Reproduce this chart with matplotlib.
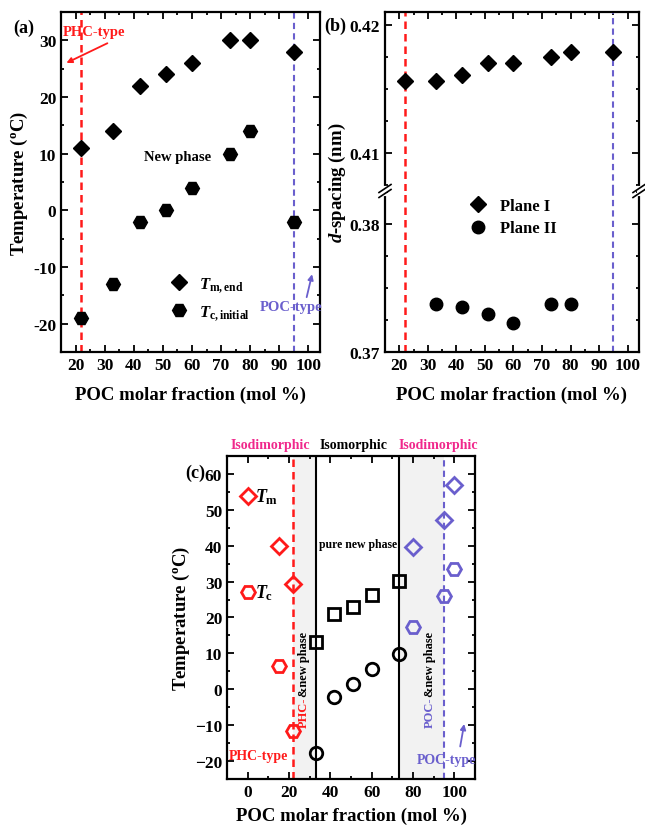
import numpy as np
import matplotlib
matplotlib.use('Agg')
import matplotlib.pyplot as plt
from matplotlib.ticker import MultipleLocator
from matplotlib.lines import Line2D

# Datos panel (a)
x_a = [22, 33, 42, 51, 60, 73, 80, 95]
tm_end = [11, 14, 22, 24, 26, 30, 30, 28]
tc_ini = [-19, -13, -2, 0, 4, 10, 14, -2]

# Datos panel (b)
x_b1 = [22, 33, 42, 51, 60, 73, 80, 95]
plane1 = [0.4156, 0.4156, 0.4161, 0.4170, 0.4170, 0.4175, 0.4179, 0.4179]
x_b2 = [33, 42, 51, 60, 73, 80]
plane2 = [0.37375, 0.3735, 0.3730, 0.3723, 0.37375, 0.37375]

# Datos panel (c)
x_phc = [0, 15, 22]
tm_phc = [53.8, 40, 29.4]
tc_phc = [27, 6.6, -11.5]
x_new = [33, 42, 51, 60, 73]
tm_new = [13.3, 21.1, 23.0, 26.3, 30.2]
tc_new = [-17.8, -2.2, 1.5, 5.7, 9.7]
x_poc = [80, 95, 100]
tm_poc = [39.6, 47.3, 56.8]
tc_poc = [17.4, 26, 33.5]

ticks_a = [-20, -10, 0, 10, 20, 30]
ticks_x = [20, 30, 40, 50, 60, 70, 80, 90, 100]

RED = '#ff1a1a'
BLUE = '#6a5fcd'
PINK = '#f0288c'
W, H = 645, 828

plt.rcParams['font.family'] = 'Liberation Serif'
plt.rcParams['font.weight'] = 'bold'
plt.rcParams['axes.labelweight'] = 'bold'
plt.rcParams['mathtext.fontset'] = 'custom'
plt.rcParams['mathtext.rm'] = 'Liberation Serif:bold'
plt.rcParams['mathtext.it'] = 'Liberation Serif:italic:bold'
plt.rcParams['mathtext.bf'] = 'Liberation Serif:bold'

fig = plt.figure(figsize=(W / 100, H / 100), dpi=100)


def caja(x0, y0, x1, y1):
    # pixeles (arriba-izquierda) -> fraccion de figura
    return [x0 / W, 1 - y1 / H, (x1 - x0) / W, (y1 - y0) / H]


def estilo(ax):
    ax.tick_params(which='both', direction='in', top=True, right=True, width=1.3, labelsize=12.5)
    ax.tick_params(which='major', length=5)
    ax.tick_params(which='minor', length=2.5)
    for s in ax.spines.values():
        s.set_linewidth(1.6)


# ---------------- Panel (a)
ax = fig.add_axes(caja(61, 13, 320, 353))
ax.axvline(22, color=RED, ls='--', lw=1.8, dashes=(3, 2))
ax.axvline(95, color=BLUE, ls='--', lw=1.5, dashes=(3, 2))
ax.plot(x_a, tm_end, 'D', color='k', ms=8, label=r'$T_{\rm m,end}$')
ax.plot(x_a, tc_ini, 'H', color='k', ms=10, label=r'$T_{\rm c,initial}$')
ax.set_xlim(15, 104)
ax.set_ylim(-25, 35)
ax.set_xticks(ticks_x)
ax.set_yticks(ticks_a)
ax.set_yticklabels([str(t) for t in ticks_a])
ax.xaxis.set_minor_locator(MultipleLocator(5))
ax.yaxis.set_minor_locator(MultipleLocator(5))
estilo(ax)
ax.set_xlabel('POC molar fraction (mol %)', fontsize=13.5, labelpad=9)
ax.set_ylabel('Temperature ($^{\\rm o}$C)', fontsize=13.5, labelpad=2)
ax.legend(frameon=False, loc='center left', bbox_to_anchor=(0.39, 0.157), fontsize=12,
          handlelength=1, handletextpad=0.7, labelspacing=0.5, borderpad=0)
ax.text(54.9, 9.5, 'New phase', fontsize=10.5, ha='center', va='center')
ax.text(26.2, 31.6, 'PHC-type', color=RED, fontsize=10.5, ha='center', va='center')
ax.annotate('', xy=(16.0, 25.8), xytext=(31.8, 29.7),
            arrowprops=dict(arrowstyle='-|>', color=RED, lw=1.3, mutation_scale=8))
ax.text(94, -16.9, 'POC-type', color=BLUE, fontsize=10.5, ha='center', va='center')
ax.annotate('', xy=(101.5, -10.8), xytext=(99.2, -15.8),
            arrowprops=dict(arrowstyle='-|>', color=BLUE, lw=1.3, mutation_scale=8))
fig.text(24 / W, 1 - 28 / H, '(a)', fontsize=13, ha='center', va='center')

# ---------------- Panel (b), eje cortado
ax_t = fig.add_axes(caja(385, 13, 639, 192))
ax_b = fig.add_axes(caja(385, 192, 639, 353))
for a in (ax_t, ax_b):
    a.axvline(22, color=RED, ls='--', lw=1.8, dashes=(3, 2))
    a.axvline(95, color=BLUE, ls='--', lw=1.5, dashes=(3, 2))
    a.set_xlim(15, 104)
    a.set_xticks(ticks_x)
    a.xaxis.set_minor_locator(MultipleLocator(5))
    a.yaxis.set_minor_locator(MultipleLocator(0.0025))
    estilo(a)
ax_t.plot(x_b1, plane1, 'D', color='k', ms=8)
ax_b.plot(x_b2, plane2, 'o', color='k', ms=9)
ax_t.set_ylim(0.407, 0.421)
ax_b.set_ylim(0.37, 0.38258)
ax_t.set_yticks([0.41, 0.42])
ax_t.set_yticklabels(['0.41', '0.42'])
ax_b.set_yticks([0.37, 0.38])
ax_b.set_yticklabels(['0.37', '0.38'])
ax_t.spines['bottom'].set_visible(False)
ax_b.spines['top'].set_visible(False)
ax_t.tick_params(which='both', bottom=False, labelbottom=False)
ax_b.tick_params(which='both', top=False)
ax_b.set_xlabel('POC molar fraction (mol %)', fontsize=13.5, labelpad=9)
fig.text(337 / W, 1 - 183 / H, '$d$-spacing (nm)', fontsize=13.5, rotation=90,
         ha='center', va='center')
# marcas del corte
for xb in (385, 639):
    fig.add_artist(Line2D([xb / W, xb / W], [1 - 189 / H, 1 - 195 / H],
                          color='white', lw=3, transform=fig.transFigure))
    for dy in (-2.5, 2.5):
        fig.add_artist(Line2D([(xb - 6) / W, (xb + 6) / W],
                              [1 - (192 + dy + 4) / H, 1 - (192 + dy - 4) / H],
                              color='k', lw=1.2, transform=fig.transFigure))
hb = [Line2D([], [], ls='', marker='D', color='k', ms=8),
      Line2D([], [], ls='', marker='o', color='k', ms=9)]
ax_b.legend(hb, ['Plane I', 'Plane II'], frameon=False, loc='upper left',
            bbox_to_anchor=(0.3, 1.01), fontsize=12, handlelength=1,
            handletextpad=0.8, labelspacing=0.4, borderpad=0)
fig.text(335 / W, 1 - 26 / H, '(b)', fontsize=13, ha='center', va='center')

# ---------------- Panel (c)
ax = fig.add_axes(caja(227, 457, 475, 780))
ax.axvspan(22, 33, color='#f2f2f2', lw=0)
ax.axvspan(73, 95, color='#f2f2f2', lw=0)
ax.axvline(22, color=RED, ls='--', lw=1.8, dashes=(3, 2))
ax.axvline(95, color=BLUE, ls='--', lw=1.5, dashes=(3, 2))
ax.axvline(33, color='k', lw=1.5)
ax.axvline(73, color='k', lw=1.5)
mk = dict(ls='', mfc='none', mew=2)
ax.plot(x_phc, tm_phc, marker='D', mec=RED, ms=8.5, **mk)
ax.plot(x_phc, tc_phc, marker='H', mec=RED, ms=10, **mk)
ax.plot(x_new, tm_new, marker='s', mec='k', ms=8, **mk)
ax.plot(x_new, tc_new, marker='o', mec='k', ms=9, **mk)
ax.plot(x_poc, tm_poc, marker='D', mec=BLUE, ms=8.5, **mk)
ax.plot(x_poc, tc_poc, marker='H', mec=BLUE, ms=10, **mk)
ax.set_xlim(-10, 110)
ax.set_ylim(-25, 65)
ax.set_xticks([0, 20, 40, 60, 80, 100])
ax.set_yticks([-20, -10, 0, 10, 20, 30, 40, 50, 60])
ax.xaxis.set_minor_locator(MultipleLocator(10))
ax.yaxis.set_minor_locator(MultipleLocator(5))
estilo(ax)
ax.set_xlabel('POC molar fraction (mol %)', fontsize=13.5, labelpad=5)
ax.set_ylabel('Temperature ($^{\\rm o}$C)', fontsize=13.5, labelpad=2)
ax.text(3.5, 53.8, r'$T_{\rm m}$', fontsize=13, va='center')
ax.text(3.5, 27, r'$T_{\rm c}$', fontsize=13, va='center')
ax.text(53.5, 40.4, 'pure new phase', fontsize=8.5, ha='center', va='center')
ax.text(5.2, -18.4, 'PHC-type', color=RED, fontsize=10, ha='center', va='center')
ax.text(96, -19.5, 'POC-type', color=BLUE, fontsize=10, ha='center', va='center')
ax.annotate('', xy=(105, -8.9), xytext=(102.6, -16.7),
            arrowprops=dict(arrowstyle='-|>', color=BLUE, lw=1.3, mutation_scale=8))
ax.text(10.9, 1.036, 'Isodimorphic', color=PINK, fontsize=10, ha='center', va='center',
        transform=ax.get_xaxis_transform())
ax.text(51, 1.036, 'Isomorphic', color='k', fontsize=10, ha='center', va='center',
        transform=ax.get_xaxis_transform())
ax.text(92, 1.036, 'Isodimorphic', color=PINK, fontsize=10, ha='center', va='center',
        transform=ax.get_xaxis_transform())
fig.text(195 / W, 1 - 473 / H, '(c)', fontsize=13, ha='center', va='center')

# textos verticales de dos colores
fig.canvas.draw()
rend = fig.canvas.get_renderer()
for xv, pre, col in ((27.3, 'PHC-', RED), (88.3, 'POC-', BLUE)):
    t1 = ax.text(xv, -10.5, pre, color=col, fontsize=9, rotation=90, ha='center', va='bottom')
    bb = t1.get_window_extent(rend)
    ytop = ax.transData.inverted().transform((bb.x0, bb.y1))[1]
    ax.text(xv, ytop, '&new phase', color='k', fontsize=9, rotation=90, ha='center', va='bottom')

fig.savefig('out.png', dpi=100)
